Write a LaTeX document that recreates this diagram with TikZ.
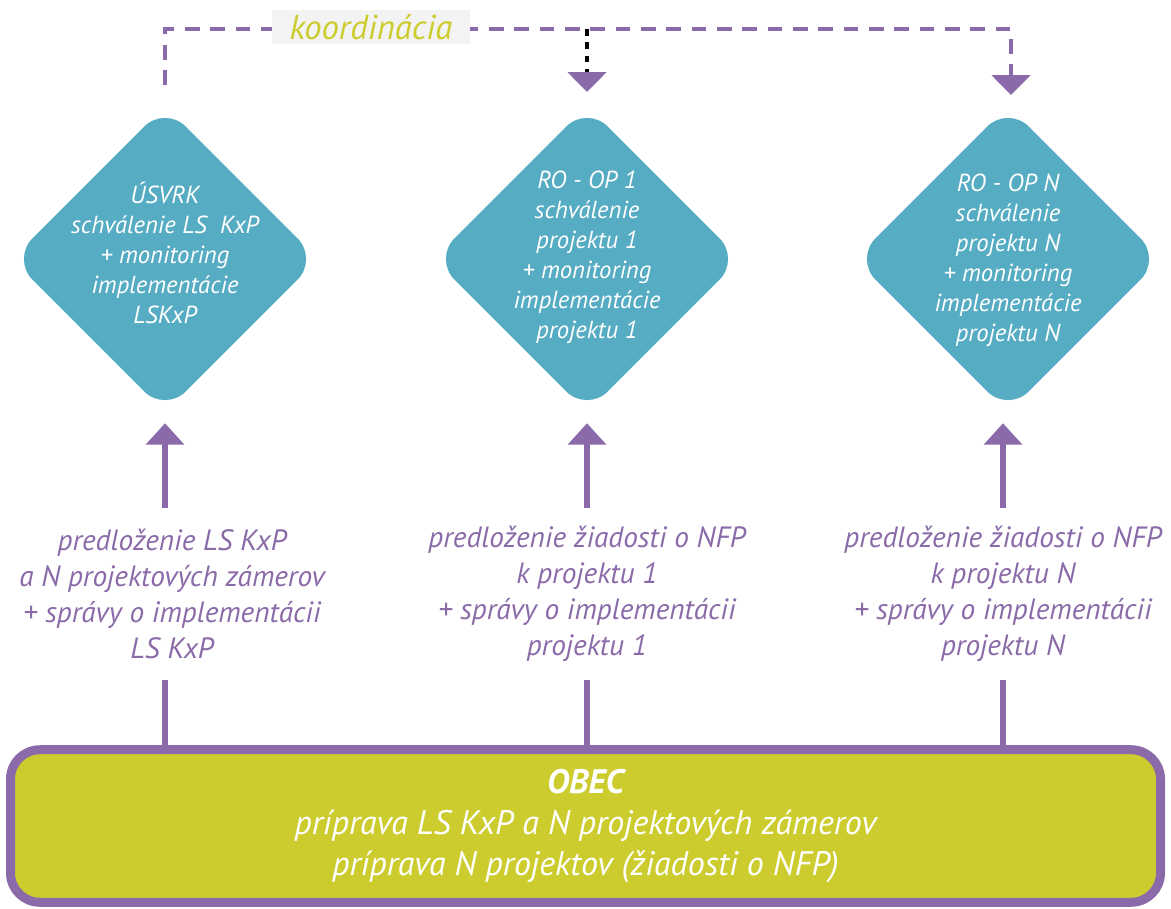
\documentclass[tikz,border=0pt]{standalone}
\usepackage{fontspec}
\setmainfont{PT Sans}
\usetikzlibrary{shapes.geometric,arrows.meta}
\definecolor{vio}{RGB}{138,106,168}
\definecolor{diateal}{RGB}{86,172,194}
\definecolor{obecgreen}{RGB}{205,204,46}
\definecolor{koordgray}{RGB}{243,243,243}

\begin{document}
\begin{tikzpicture}[x=0.75pt,y=0.75pt,yscale=-1,xscale=1,
	dia/.style={diamond, fill=diateal, minimum width=230pt, minimum height=230pt, rounded corners=22pt, inner sep=0pt},
	diatxt/.style={text=white, font=\itshape\fontsize{18.5}{22.5}\selectfont, align=center},
	lab/.style={text=vio, font=\itshape\fontsize{22}{27}\selectfont, align=center, minimum height=129pt, inner sep=0pt},
	link/.style={draw=vio, line width=4.5pt},
	uparr/.style={draw=vio, line width=4.5pt, -{Triangle[width=28pt,length=16pt]}, shorten >=8pt},
	coord/.style={draw=vio, line width=2.6pt, dash pattern=on 11pt off 8pt},
	blackdash/.style={draw=black, line width=2.4pt, dash pattern=on 5pt off 5pt},
	headtip/.style={-{Triangle[width=29pt,length=15pt,color=vio,fill=vio]}}
	]
	\useasboundingbox (0,0) rectangle (1171,908);
	
	%Shape: Rounded box OBEC
	\node [draw=vio, line width=6.75pt, fill=obecgreen, rounded corners=22pt, minimum width=862.5pt, minimum height=114.4pt,
		text=white, font=\itshape\fontsize{25.5}{31}\selectfont, align=center] (obec) at (585.5,826)
		{\textbf{OBEC}\\príprava LS KxP a N projektových zámerov\\príprava N projektov (žiadosti o NFP)};
	
	%Shape: Diamonds
	\node [dia] (usvrk) at (165,259) {};
	\node [diatxt] (usvrkT) at (165,253) {ÚSVRK\\schválenie LS~ KxP\\+ monitoring\\implementácie\\LSKxP};
	\node [dia] (ro1) at (587,259) {};
	\node [diatxt] (ro1T) at (587,257) {RO - OP 1\\schválenie\\projektu 1\\+ monitoring\\implementácie\\projektu 1};
	\node [dia] (roN) at (1008,259) {};
	\node [diatxt] (roNT) at (1008,260) {RO - OP N\\schválenie\\projektu N\\+ monitoring\\implementácie\\projektu N};
	
	%Text: labels on the arrows
	\node [lab] (labA) at (172,594) {predloženie LS KxP\\a N projektových zámerov\\+ správy o implementácii\\LS KxP};
	\node [lab] (labB) at (587,594) {predloženie žiadosti o NFP\\k projektu 1\\+ správy o implementácii\\projektu 1};
	\node [lab] (labC) at (1003,594) {predloženie žiadosti o NFP\\k projektu N\\+ správy o implementácii\\projektu N};
	
	%Straight Lines: box to labels
	\draw [link] (usvrk |- obec.north) -- (usvrk |- labA.south) ;
	\draw [link] (labB |- obec.north) -- (labB.south) ;
	\draw [link] (labC |- obec.north) -- (labC.south) ;
	
	%Arrows: labels to diamonds
	\draw [uparr] (usvrk |- labA.north) -- (usvrk.south) ;
	\draw [uparr] (labB.north) -- (ro1.south) ;
	\draw [uparr] (labC.north) -- (labC.north |- roN.south) ;
	
	%Dashed Lines: koordinacia
	\coordinate (kA) at (165,85);
	\coordinate (ktop) at (587,29);
	\coordinate (kM) at (587,92);
	\coordinate (kB) at (1011,95);
	\draw [coord, headtip] (kA) |- (ktop) -| (kB) ;
	\draw [blackdash, headtip] (ktop) -- (kM) ;
	
	%Text: koordinacia
	\node [fill=koordgray, minimum width=148pt, minimum height=25.5pt, inner sep=0pt,
		text=obecgreen, font=\itshape\fontsize{26}{28}\selectfont] (koord) at (371,27) {koordinácia};
	
\end{tikzpicture}
\end{document}
